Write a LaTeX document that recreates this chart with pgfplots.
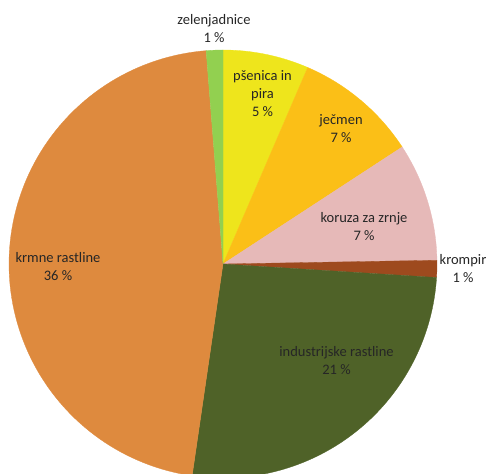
\documentclass[border=0pt]{standalone}
\usepackage{pgfplots}
\usepackage{pgfplotstable}
\pgfplotsset{compat=1.18}
\usepackage{fontspec}
\setmainfont{Carlito}
\definecolor{cPse}{HTML}{EEE51C}
\definecolor{cJec}{HTML}{FBBF17}
\definecolor{cKor}{HTML}{E6B9B8}
\definecolor{cKro}{HTML}{9E4A1E}
\definecolor{cInd}{HTML}{4F6228}
\definecolor{cKrm}{HTML}{DE8A3E}
\definecolor{cZel}{HTML}{92D050}
\definecolor{cTxt}{HTML}{262626}
\pgfplotstableread{
name value
psenica 5.05
jecmen 7.26
koruza 6.96
krompir 1.00
industrijske 20.50
krmne 36.20
zelenjadnice 0.98
}\piedata
\newcommand\getv[2]{\pgfplotstablegetelem{#1}{value}\of\piedata\let#2\pgfplotsretval}
\begin{document}
\begin{tikzpicture}
\getv{0}\vA \getv{1}\vB \getv{2}\vC \getv{3}\vD \getv{4}\vE \getv{5}\vF \getv{6}\vG
\pgfmathsetmacro\tot{\vA+\vB+\vC+\vD+\vE+\vF+\vG}
\pgfmathsetmacro\aA{90}
\pgfmathsetmacro\aB{\aA-360*\vA/\tot}
\pgfmathsetmacro\aC{\aB-360*\vB/\tot}
\pgfmathsetmacro\aD{\aC-360*\vC/\tot}
\pgfmathsetmacro\aE{\aD-360*\vD/\tot}
\pgfmathsetmacro\aF{\aE-360*\vE/\tot}
\pgfmathsetmacro\aG{\aF-360*\vF/\tot}
\pgfmathsetmacro\aH{\aG-360*\vG/\tot}
\begin{axis}[scale only axis, width=488pt, height=474pt,
  xmin=0, xmax=488, ymin=0, ymax=474, hide axis, clip=true]
\newcommand\slice[3]{\addplot[fill=#3, draw=#3, line width=0.3pt, domain=#2:#1, samples=100]
  ({223+214*cos(x)},{210+214*sin(x)}) -- (axis cs:223,210) -- cycle;}
\slice{\aA}{\aB}{cPse}
\slice{\aB}{\aC}{cJec}
\slice{\aC}{\aD}{cKor}
\slice{\aD}{\aE}{cKro}
\slice{\aE}{\aF}{cInd}
\slice{\aF}{\aG}{cKrm}
\slice{\aG}{\aH}{cZel}
\tikzset{lbl/.style={align=center, text=cTxt, font=\fontsize{14.5}{18}\selectfont, inner sep=0pt}}
\node[lbl] at (axis cs:214,445) {zelenjadnice\\1 \%};
\node[lbl] at (axis cs:262.5,380) {pšenica in\\pira\\5 \%};
\node[lbl] at (axis cs:341,345) {ječmen\\7 \%};
\node[lbl] at (axis cs:364,247) {koruza za zrnje\\7 \%};
\node[lbl] at (axis cs:463,205.5) {krompir\\1 \%};
\node[lbl] at (axis cs:336.5,113) {industrijske rastline\\21 \%};
\node[lbl] at (axis cs:58,207.5) {krmne rastline\\36 \%};
\end{axis}
\pgfresetboundingbox
\path[use as bounding box] (current axis.south west) rectangle (current axis.north east);
\end{tikzpicture}
\end{document}
